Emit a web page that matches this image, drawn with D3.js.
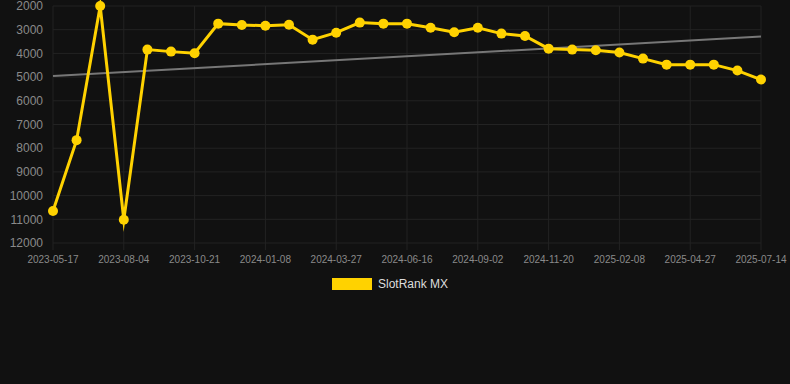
<!DOCTYPE html>
<html>
<head>
<meta charset="utf-8">
<script src="https://cdn.jsdelivr.net/npm/d3@7"></script>
<style>
  html, body { margin: 0; padding: 0; background: #111111; }
  #viz { width: 790px; height: 384px; }
</style>
</head>
<body>
<div id="viz"></div>
<script>
// dates (category axis), every third one is labelled
const dates = [
  "2023-05-17", "2023-06-12", "2023-07-08", "2023-08-04", "2023-08-30", "2023-09-25",
  "2023-10-21", "2023-11-16", "2023-12-13", "2024-01-08", "2024-02-03", "2024-03-01",
  "2024-03-27", "2024-04-23", "2024-05-20", "2024-06-16", "2024-07-12", "2024-08-07",
  "2024-09-02", "2024-09-28", "2024-10-25", "2024-11-20", "2024-12-16", "2025-01-12",
  "2025-02-08", "2025-03-06", "2025-04-01", "2025-04-27", "2025-05-23", "2025-06-18",
  "2025-07-14"
]
const ranks = [
  10650, 7660, 2000, 11020, 3840, 3925, 3995, 2745, 2800, 2830, 2790,
  3420, 3125, 2700, 2745, 2745, 2915, 3110, 2915, 3165, 3265, 3800,
  3840, 3870, 3965, 4220, 4475, 4475, 4475, 4725, 5105
]
const trendEnds = [4950, 3290]
const yTicks = [2000, 3000, 4000, 5000, 6000, 7000, 8000, 9000, 10000, 11000, 12000]
const seriesName = "SlotRank MX"

document.addEventListener("DOMContentLoaded", () => {

  const width = 790
  const height = 384
  const margin = {left: 53, right: 29, top: 6, bottom: 141}

  const svg = d3.select("#viz").append("svg")
    .attr("width", width)
    .attr("height", height)
    .style("background-color", "#111111")

  const x = d3.scalePoint()
    .domain(dates)
    .range([margin.left, width - margin.right])

  // rank axis: smaller number on top
  const y = d3.scaleLinear()
    .domain([2000, 12000])
    .range([margin.top, height - margin.bottom])

  const labelled = dates.filter((d, i) => i % 3 == 0)

  // grid
  svg.append("g")
    .selectAll("line")
    .data(yTicks)
    .enter()
    .append("line")
    .attr("x1", margin.left)
    .attr("x2", width - margin.right)
    .attr("y1", d => y(d))
    .attr("y2", d => y(d))
    .attr("stroke", "#232323")
    .attr("stroke-width", 1)

  svg.append("g")
    .selectAll("line")
    .data(labelled)
    .enter()
    .append("line")
    .attr("x1", d => x(d))
    .attr("x2", d => x(d))
    .attr("y1", margin.top)
    .attr("y2", height - margin.bottom + 7)
    .attr("stroke", "#232323")
    .attr("stroke-width", 1)

  // y labels
  svg.append("g")
    .selectAll("text")
    .data(yTicks)
    .enter()
    .append("text")
    .attr("x", 43)
    .attr("y", d => y(d))
    .attr("dy", "0.35em")
    .attr("text-anchor", "end")
    .attr("fill", "#8a8a8a")
    .style("font", "12px 'Liberation Sans', Arial, sans-serif")
    .text(d => d)

  // x labels
  svg.append("g")
    .selectAll("text")
    .data(labelled)
    .enter()
    .append("text")
    .attr("x", d => x(d))
    .attr("y", 259)
    .attr("dy", "0.35em")
    .attr("text-anchor", "middle")
    .attr("fill", "#8a8a8a")
    .style("font", "10px 'Liberation Sans', Arial, sans-serif")
    .text(d => d)

  // trend line
  svg.append("line")
    .attr("x1", x(dates[0]))
    .attr("x2", x(dates[dates.length - 1]))
    .attr("y1", y(trendEnds[0]))
    .attr("y2", y(trendEnds[1]))
    .attr("stroke", "#777777")
    .attr("stroke-width", 2)

  const line = d3.line()
    .x((d, i) => x(dates[i]))
    .y(d => y(d))

  svg.append("path")
    .datum(ranks)
    .attr("d", line)
    .attr("fill", "none")
    .attr("stroke", "#ffd200")
    .attr("stroke-width", 3)
    .attr("stroke-miterlimit", 10)

  svg.append("g")
    .selectAll("circle")
    .data(ranks)
    .enter()
    .append("circle")
    .attr("cx", (d, i) => x(dates[i]))
    .attr("cy", d => y(d))
    .attr("r", 5)
    .attr("fill", "#ffd200")

  // legend
  const legend = svg.append("g")
  legend.append("rect")
    .attr("x", 332)
    .attr("y", 278)
    .attr("width", 40)
    .attr("height", 12)
    .attr("fill", "#ffd200")
  legend.append("text")
    .attr("x", 378)
    .attr("y", 284)
    .attr("dy", "0.35em")
    .attr("fill", "#dddddd")
    .style("font", "12px 'Liberation Sans', Arial, sans-serif")
    .text(seriesName)
})
</script>
</body>
</html>
